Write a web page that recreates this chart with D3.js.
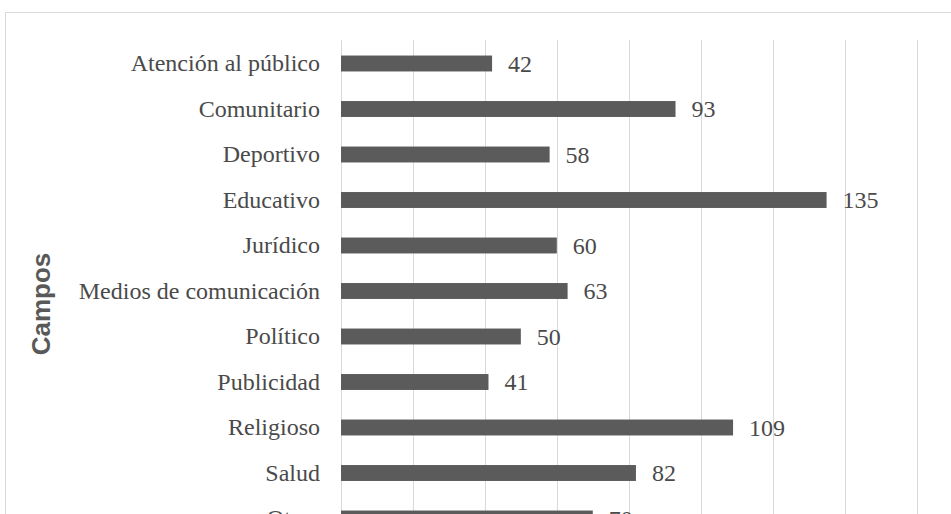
<!DOCTYPE html>
<html>
<head>
<meta charset="utf-8">
<script src="https://cdn.jsdelivr.net/npm/d3@7"></script>
<style>
  body { margin: 0; background: #fff; overflow: hidden; }
</style>
</head>
<body>
<script>
const categories = ["Atención al público", "Comunitario", "Deportivo", "Educativo", "Jurídico",
  "Medios de comunicación", "Político", "Publicidad", "Religioso", "Salud", "Otros"];
const values = [42, 93, 58, 135, 60, 63, 50, 41, 109, 82, 70];
const xTicks = [0, 20, 40, 60, 80, 100, 120, 140, 160];

const W = 951, H = 514;
const svg = d3.select("body").append("svg")
  .attr("width", W).attr("height", H);

// chart frame (runs off the right and bottom edge)
svg.append("rect")
  .attr("x", 5.5).attr("y", 12.5)
  .attr("width", 1000).attr("height", 700)
  .attr("fill", "none").attr("stroke", "#d9d9d9");

const x = d3.scaleLinear().domain([0, 160]).range([341, 916.5]);
const y = d3.scaleBand().domain(categories).range([40.75, 40.75 + 45.5 * categories.length])
  .paddingInner(0.65).paddingOuter(0.325);

// gridlines
svg.append("g").selectAll("line").data(xTicks).enter().append("line")
  .attr("x1", d => Math.round(x(d)) + 0.5).attr("x2", d => Math.round(x(d)) + 0.5)
  .attr("y1", 40).attr("y2", 600)
  .attr("stroke", "#d9d9d9").attr("stroke-width", 1);

// bars
svg.append("g").selectAll("rect").data(values).enter().append("rect")
  .attr("x", x(0))
  .attr("y", (d, i) => y(categories[i]))
  .attr("width", d => x(d) - x(0))
  .attr("height", y.bandwidth())
  .attr("fill", "#5b5b5b");

const serif = "'Liberation Serif', 'Times New Roman', serif";

// value labels
svg.append("g").selectAll("text").data(values).enter().append("text")
  .attr("x", d => x(d) + 16)
  .attr("y", (d, i) => y(categories[i]) + y.bandwidth() / 2)
  .attr("dy", "0.35em")
  .style("font-family", serif)
  .style("font-size", "24px")
  .style("fill", "#4a4a4a")
  .text(d => d);

// category labels
const yAxis = d3.axisLeft(y).tickSize(0).tickPadding(21);
const ga = svg.append("g").attr("transform", "translate(341,0)").call(yAxis);
ga.select(".domain").remove();
ga.selectAll("text")
  .style("font-family", serif)
  .style("font-size", "24px")
  .style("fill", "#4a4a4a");

// axis title
svg.append("text")
  .attr("transform", "translate(50,304) rotate(-90)")
  .attr("text-anchor", "middle")
  .style("font-family", "'Liberation Sans', Arial, sans-serif")
  .style("font-weight", "bold")
  .style("font-size", "26px")
  .style("fill", "#595959")
  .text("Campos");
</script>
</body>
</html>
